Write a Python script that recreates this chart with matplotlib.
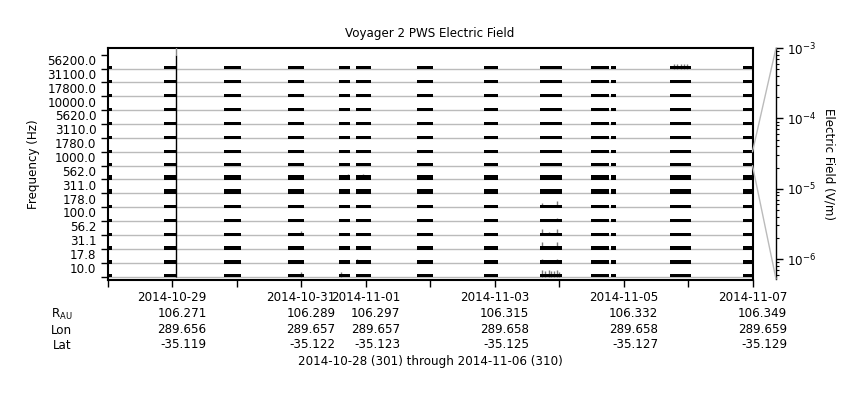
import pandas as pd
import matplotlib
matplotlib.use('Agg')
import matplotlib.pyplot as plt
import matplotlib.dates as mdates
from matplotlib.patches import ConnectionPatch

plt.rcParams['font.family'] = 'DejaVu Sans'
plt.rcParams['font.size'] = 8.6

# frequency channels, bottom to top
channels = ['10.0', '17.8', '31.1', '56.2', '100.0', '178.0', '311.0', '562.0',
            '1000.0', '1780.0', '3110.0', '5620.0', '10000.0', '17800.0', '31100.0', '56200.0']
# typical signal height in each channel (fraction of one band)
level = [0.28, 0.24, 0.28, 0.21, 0.24, 0.24, 0.38, 0.35,
         0.24, 0.21, 0.21, 0.21, 0.21, 0.21, 0.21, 0.25]

# intervals with data
chunk_start = ['2014-10-28 00:00', '2014-10-28 21:00', '2014-10-29 19:20', '2014-10-30 19:10',
               '2014-10-31 14:10', '2014-10-31 20:25', '2014-11-01 19:10', '2014-11-02 20:10',
               '2014-11-03 16:55', '2014-11-04 11:55', '2014-11-04 19:20', '2014-11-05 17:15',
               '2014-11-06 20:25']
chunk_end = ['2014-10-28 01:40', '2014-10-29 01:30', '2014-10-30 01:30', '2014-10-31 01:05',
             '2014-10-31 18:15', '2014-11-01 01:55', '2014-11-02 01:00', '2014-11-03 01:15',
             '2014-11-04 01:00', '2014-11-04 18:35', '2014-11-04 21:15', '2014-11-06 01:05',
             '2014-11-07 00:00']

# short bursts above the typical level
spike_time = ['2014-11-03 17:40', '2014-11-03 20:15', '2014-11-03 23:15',
              '2014-11-03 17:40', '2014-11-03 20:15', '2014-11-03 23:15',
              '2014-11-03 17:40', '2014-11-03 23:15',
              '2014-11-03 17:40', '2014-11-03 23:15',
              '2014-11-03 17:40', '2014-11-03 18:45', '2014-11-03 20:15', '2014-11-03 21:00',
              '2014-11-03 22:10', '2014-11-03 23:15', '2014-11-04 00:00',
              '2014-11-03 23:15',
              '2014-11-05 18:45', '2014-11-05 19:55', '2014-11-05 21:20', '2014-11-05 22:30',
              '2014-11-05 23:35',
              '2014-10-31 00:00', '2014-10-31 14:50', '2014-10-31 17:30', '2014-10-31 23:05',
              '2014-10-31 20:50', '2014-10-31 00:00']
spike_chan = [5, 5, 5,
              3, 3, 3,
              2, 2,
              1, 1,
              0, 0, 0, 0, 0, 0, 0,
              4,
              15, 15, 15, 15, 15,
              0, 0, 7, 7, 1, 3]
spike_height = [0.30, 0.15, 0.45,
                0.45, 0.22, 0.45,
                0.50, 0.50,
                0.30, 0.30,
                0.45, 0.40, 0.45, 0.40, 0.40, 0.45, 0.35,
                0.22,
                0.35, 0.35, 0.35, 0.35, 0.35,
                0.30, 0.30, 0.40, 0.40, 0.28, 0.30]

burst_time = '2014-10-29 01:20'

tick_days = pd.date_range('2014-10-28', '2014-11-07', freq='D')
label_days = ['2014-10-29', '2014-10-31', '2014-11-01', '2014-11-03', '2014-11-05', '2014-11-07']
r_au = ['106.271', '106.289', '106.297', '106.315', '106.332', '106.349']
lon = ['289.656', '289.657', '289.657', '289.658', '289.658', '289.659']
lat = ['-35.119', '-35.122', '-35.123', '-35.125', '-35.127', '-35.129']

efield_min, efield_max = 5.2e-7, 1e-3
ref_channel = 8

W, H = 860, 400
fig = plt.figure(figsize=(W / 100, H / 100), dpi=100)
ax = fig.add_axes([107.5 / W, 1 - 280.3 / H, 645 / W, 232 / H])

starts = mdates.date2num(pd.to_datetime(chunk_start))
ends = mdates.date2num(pd.to_datetime(chunk_end))
xr = list(zip(starts, ends - starts))

for i in range(len(channels)):
    ax.axhline(i, color='#bbbbbb', lw=1, zorder=1)
    ax.broken_barh(xr, (i - 0.06, level[i]), facecolor='black', edgecolor='none', zorder=3)

st = mdates.date2num(pd.to_datetime(spike_time))
for t, c, h in zip(st, spike_chan, spike_height):
    ax.vlines(t, c, c + h, color='#777777', lw=1, zorder=2)

bt = mdates.date2num(pd.Timestamp(burst_time))
ax.vlines(bt, 0, 16, color='black', lw=1, zorder=3)
ax.vlines(bt, 16, 16.75, color='#888888', lw=1, zorder=3)

ax.set_xlim(mdates.date2num(tick_days[0]), mdates.date2num(tick_days[-1]))
ax.set_ylim(-0.27, 16.46)

# y axis: ticks at band edges, labels in band centres
ax.set_yticks(range(len(channels) + 1))
ax.set_yticklabels([])
ax.set_yticks([i + 0.62 for i in range(len(channels))], minor=True)
ax.set_yticklabels(channels, minor=True)
ax.tick_params(axis='y', which='major', length=5, width=1, direction='out')
ax.tick_params(axis='y', which='minor', length=0, pad=8)
ax.set_ylabel('Frequency (Hz)', labelpad=5)

# x axis with ephemeris
labels = []
for d in tick_days:
    key = d.strftime('%Y-%m-%d')
    if key in label_days:
        k = label_days.index(key)
        labels.append(f'{key}\n{r_au[k]}\n{lon[k]}\n{lat[k]}')
    else:
        labels.append('')
ax.set_xticks(mdates.date2num(tick_days))
ax.set_xticklabels(labels, linespacing=1.26)
for lbl in ax.get_xticklabels():
    lbl.set_multialignment('right')
ax.tick_params(axis='x', length=5, width=1, direction='out', pad=3)

for sp in ax.spines.values():
    sp.set_linewidth(1.5)

ax.set_title('Voyager 2 PWS Electric Field', fontsize=8.6, pad=8)

x_lab = 72 / W
fig.text(x_lab, 1 - 314 / H, r'R$_{\mathregular{AU}}$', ha='right', va='center')
fig.text(x_lab, 1 - 330 / H, 'Lon', ha='right', va='center')
fig.text(x_lab, 1 - 345.5 / H, 'Lat', ha='right', va='center')
fig.text((107.5 + 752.5) / 2 / W, 1 - 362 / H,
         '2014-10-28 (301) through 2014-11-06 (310)', ha='center', va='center')

# electric field scale
cax = fig.add_axes([775 / W, 1 - 279 / H, 1 / W, 231 / H])
cax.set_yscale('log')
cax.set_ylim(efield_min, efield_max)
cax.xaxis.set_visible(False)
for s in ['left', 'top', 'bottom']:
    cax.spines[s].set_visible(False)
cax.spines['right'].set_linewidth(1)
cax.yaxis.tick_right()
cax.yaxis.set_label_position('right')
cax.tick_params(axis='y', which='major', length=5, width=1, direction='out', pad=3)
cax.tick_params(axis='y', which='minor', length=2.5, width=0.8, direction='out')
cax.set_ylabel('Electric Field (V/m)', rotation=270, labelpad=14)
cax.patch.set_visible(False)

for ya, yb in [(ref_channel + 1, 1), (ref_channel, 0)]:
    con = ConnectionPatch(xyA=(1, ya), coordsA=ax.get_yaxis_transform(),
                          xyB=(1, yb), coordsB=cax.transAxes,
                          color='#bbbbbb', lw=1)
    fig.add_artist(con)

fig.savefig('out.png', dpi=100)
